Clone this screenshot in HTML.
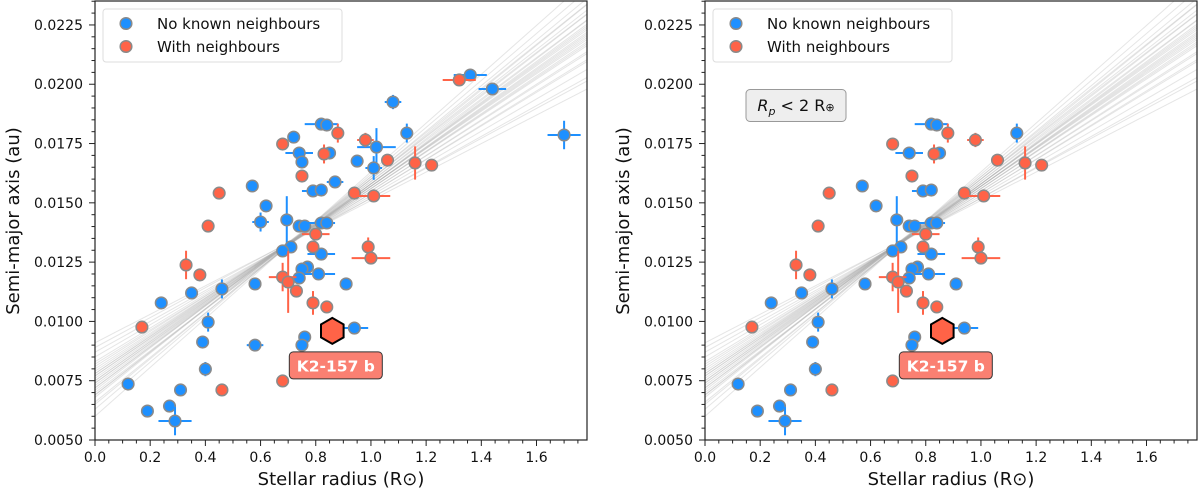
<!DOCTYPE html>
<html><head><meta charset="utf-8"><style>
html,body{margin:0;padding:0;background:#fff;}
svg{display:block;font-family:"DejaVu Sans","Liberation Sans",sans-serif;}
</style></head><body>
<svg id="chart" width="1200" height="493" viewBox="0 0 1200 493"></svg>
<script>
// ---------- data ----------
const blueX    = [1.36,1.44,1.08,0.82,0.84,1.13,1.70,0.72,1.02,0.74,0.85,0.75,0.95,1.01,0.57,0.87,0.79,0.82,0.62,0.60,0.695,0.74,0.76,0.82,0.84,0.71,0.68,0.82,0.77,0.75,0.81,0.74,0.58,0.91,0.46,0.35,0.24,0.41,0.94,0.76,0.39,0.58,0.75,0.40,0.12,0.31,0.27,0.19,0.29];
const blueY    = [0.02039,0.0198,0.01925,0.01832,0.01828,0.01794,0.01786,0.01777,0.01735,0.0171,0.0171,0.01672,0.01676,0.01647,0.01571,0.01588,0.0155,0.01554,0.01487,0.01419,0.01428,0.01402,0.01402,0.01415,0.01415,0.01314,0.01297,0.01284,0.01229,0.01221,0.012,0.01183,0.01158,0.01158,0.01137,0.0112,0.01078,0.00997,0.00972,0.00934,0.00913,0.009,0.009,0.00799,0.00736,0.00711,0.00643,0.00622,0.0058];
const blueXerr = [0.06,0.05,0.03,0.06,0,0,0.06,0,0.07,0.05,0,0.02,0,0.03,0,0.03,0.04,0,0,0.03,0,0,0,0.05,0,0,0,0.05,0,0,0.06,0,0,0,0,0,0,0,0.05,0,0,0.03,0,0,0,0,0,0,0.06];
const blueYerr = [0,0,0.0003,0,0,0.0004,0.0006,0,0.0008,0,0,0,0,0.0005,0,0,0,0,0,0.0004,0.001,0,0,0,0,0,0,0,0,0,0,0,0,0,0.0004,0,0,0.0004,0,0,0,0,0,0.0003,0,0,0,0,0.0006];
const blueInRight = [0,0,0,1,1,1,0,0,0,1,1,0,0,0,1,0,1,1,1,0,1,1,1,1,1,1,1,1,1,1,1,1,1,1,1,1,1,1,1,1,1,0,1,1,1,1,1,1,1];

const orangeX    = [1.32,0.88,0.68,0.98,0.83,1.06,1.16,1.22,0.75,0.45,0.94,1.01,0.41,0.80,0.79,0.99,1.00,0.33,0.38,0.68,0.70,0.73,0.79,0.84,0.17,0.68,0.46];
const orangeY    = [0.02018,0.01794,0.01748,0.01765,0.01706,0.0168,0.01668,0.01659,0.01613,0.01541,0.01541,0.01529,0.01402,0.01368,0.01314,0.01314,0.01267,0.01238,0.01196,0.01187,0.01166,0.01128,0.01078,0.01061,0.00976,0.00749,0.00711];
const orangeXerr = [0.06,0,0,0.03,0,0,0,0,0.02,0,0,0.06,0,0.05,0,0,0.07,0,0,0.05,0,0,0,0,0,0,0];
const orangeYerr = [0,0.0004,0,0.0003,0.0004,0,0.0007,0,0,0,0,0,0,0,0,0.0004,0,0.0006,0,0.0006,0.0013,0,0.0005,0,0,0,0];
const orangeInRight = [0,1,1,1,1,1,1,1,1,1,1,1,1,1,1,1,1,1,1,1,1,1,1,1,1,1,1];

const targetX = 0.86, targetY = 0.0096;

const fitIntercepts = [0.0060,0.0063,0.0065,0.0066,0.0068,0.0069,0.0070,0.0071,0.0072,0.0072,0.0073,0.0074,0.0074,0.0075,0.0075,0.0076,0.0077,0.0077,0.0078,0.0079,0.0080,0.0081,0.0082,0.0083,0.0085,0.0087,0.0089,0.0091,0.0069,0.0078];
const fitSlopes     = [0.0103,0.0099,0.0096,0.0094,0.0093,0.0090,0.0088,0.0089,0.0086,0.0087,0.0085,0.0083,0.0084,0.0082,0.0083,0.0081,0.0079,0.0080,0.0078,0.0077,0.0075,0.0074,0.0072,0.0071,0.0068,0.0065,0.0063,0.0060,0.0091,0.0079];

const xTicks = [0.0,0.2,0.4,0.6,0.8,1.0,1.2,1.4,1.6];
const xTickLabels = ["0.0","0.2","0.4","0.6","0.8","1.0","1.2","1.4","1.6"];
const yTicks = [0.005,0.0075,0.01,0.0125,0.015,0.0175,0.02,0.0225];
const yTickLabels = ["0.0050","0.0075","0.0100","0.0125","0.0150","0.0175","0.0200","0.0225"];

// ---------- drawing ----------
const NS = "http://www.w3.org/2000/svg";
const svg = document.getElementById('chart');
const BLUE = "#1e90ff", ORANGE = "#ff6347";
const XMIN = 0, XMAX = 1.783, YMIN = 0.005, YMAX = 0.02351;
const PW = 492, PT = 1, PB = 440;

function mk(tag, attrs, parent) {
  const e = document.createElementNS(NS, tag);
  for (const k in attrs) e.setAttribute(k, attrs[k]);
  (parent || svg).appendChild(e);
  return e;
}

function drawPanel(left, isRight) {
  const sx = v => left + (v - XMIN) / (XMAX - XMIN) * PW;
  const sy = v => PB - (v - YMIN) / (YMAX - YMIN) * (PB - PT);
  const g = mk('g', {});
  
  

  const cid = 'clip' + (isRight ? 'R' : 'L');
  const cp = mk('clipPath', {id: cid}, g);
  mk('rect', {x: left, y: PT, width: PW, height: PB - PT}, cp);

  const fits = mk('g', {'clip-path': 'url(#' + cid + ')'}, g);
  
  
  for (let i = 0; i < fitIntercepts.length; i++) {
    const a = fitIntercepts[i], b = fitSlopes[i];
    const l = mk('line', {x1: sx(XMIN), y1: sy(a + b * XMIN), x2: sx(XMAX), y2: sy(a + b * XMAX), stroke: '#aaa', 'stroke-width': 1, 'stroke-opacity': 0.3}, fits);
    
    
  }

  function series(X, Y, XE, YE, IN, color, name) {
    const sg = mk('g', {}, g);
    
    
    for (let i = 0; i < X.length; i++) {
      if (isRight && !IN[i]) continue;
      const cx = sx(X[i]), cy = sy(Y[i]);
      if (XE[i] > 0) {
        const e = mk('line', {x1: sx(X[i] - XE[i]), x2: sx(X[i] + XE[i]), y1: cy, y2: cy, stroke: color, 'stroke-width': 2}, sg);
        
        
      }
      if (YE[i] > 0) {
        const e = mk('line', {x1: cx, x2: cx, y1: sy(Y[i] - YE[i]), y2: sy(Y[i] + YE[i]), stroke: color, 'stroke-width': 2}, sg);
        
        
      }
      const c = mk('circle', {cx: cx, cy: cy, r: 5.8, fill: color, stroke: '#8a8a8a', 'stroke-width': 1.5}, sg);
      
      
    }
  }
  series(blueX, blueY, blueXerr, blueYerr, blueInRight, BLUE, 'no-neighbours');
  series(orangeX, orangeY, orangeXerr, orangeYerr, orangeInRight, ORANGE, 'with-neighbours');

  const hx = sx(targetX), hy = sy(targetY), R = 13;
  let pts = [];
  for (let k = 0; k < 6; k++) { const ang = Math.PI / 2 + k * Math.PI / 3; pts.push((hx + R * Math.cos(ang)).toFixed(1) + ',' + (hy - R * Math.sin(ang)).toFixed(1)); }
  const hex = mk('polygon', {points: pts.join(' '), fill: ORANGE, stroke: '#000', 'stroke-width': 2}, g);
  
  
  const lb = mk('rect', {x: hx - 43, y: hy + 21, width: 93, height: 27, rx: 4, fill: '#fa8072', stroke: '#333', 'stroke-width': 1}, g);
  
  
  const lt = mk('text', {x: hx + 3.5, y: hy + 40.5, 'text-anchor': 'middle', fill: '#fff', 'font-size': 15.5, 'font-weight': 'bold'}, g);
  lt.textContent = 'K2-157 b';
  
  

  const fr = mk('rect', {x: left, y: PT, width: PW, height: PB - PT, fill: 'none', stroke: '#222', 'stroke-width': 1.2}, g);
  
  

  for (let v = 0; v <= XMAX + 1e-9; v += 0.05) {
    const major = Math.abs(v / 0.2 - Math.round(v / 0.2)) < 1e-6;
    const t = mk('line', {x1: sx(v), x2: sx(v), y1: PB, y2: PB + (major ? 6 : 3.5), stroke: '#222', 'stroke-width': 1}, g);
    
    
  }
  xTicks.forEach((v, i) => {
    const t = mk('text', {x: sx(v), y: 462, 'text-anchor': 'middle', 'font-size': 14, fill: '#111'}, g);
    t.textContent = xTickLabels[i];
    
    
  });
  for (let v = YMIN; v <= YMAX + 1e-9; v += 0.0005) {
    const major = Math.abs((v - 0.005) / 0.0025 - Math.round((v - 0.005) / 0.0025)) < 1e-6;
    const t = mk('line', {x1: left, x2: left - (major ? 6 : 3.5), y1: sy(v), y2: sy(v), stroke: '#222', 'stroke-width': 1}, g);
    
    
  }
  yTicks.forEach((v, i) => {
    const t = mk('text', {x: left - 12, y: sy(v) + 5, 'text-anchor': 'end', 'font-size': 14, fill: '#111'}, g);
    t.textContent = yTickLabels[i];
    
    
  });
  const xt = mk('text', {x: left + 246, y: 485, 'text-anchor': 'middle', 'font-size': 18, fill: '#111'}, g);
  xt.textContent = 'Stellar radius (R\u2299)';
  
  
  const yt = mk('text', {x: 0, y: 0, transform: 'translate(' + (left - 76) + ',221) rotate(-90)', 'text-anchor': 'middle', 'font-size': 18, fill: '#111'}, g);
  yt.textContent = 'Semi-major axis (au)';
  
  

  const lg = mk('g', {}, g);
  
  
  mk('rect', {x: left + 8, y: 9, width: 239, height: 53, rx: 3, fill: '#fff', 'fill-opacity': 0.85, stroke: '#ddd', 'stroke-width': 1}, lg);
  [[BLUE, 'No known neighbours', 23.5], [ORANGE, 'With neighbours', 46.5]].forEach(e => {
    const c = mk('circle', {cx: left + 31, cy: e[2], r: 5.8, fill: e[0], stroke: '#8a8a8a', 'stroke-width': 1.5}, lg);
    
    
    const t = mk('text', {x: left + 62, y: e[2] + 5.5, 'font-size': 15, fill: '#111'}, lg);
    t.textContent = e[1];
    
    
  });

  if (isRight) {
    const bx = mk('rect', {x: left + 41, y: 89.5, width: 100, height: 32, rx: 4, fill: '#eee', stroke: '#999', 'stroke-width': 1}, g);
    
    
    const t = mk('text', {x: left + 91, y: 111, 'text-anchor': 'middle', 'font-size': 16, fill: '#111'}, g);
    t.innerHTML = '<tspan font-style="italic">R</tspan><tspan font-style="italic" font-size="11" dy="4">p</tspan><tspan dy="-4"> &lt; 2 R</tspan><tspan font-size="11">\u2295</tspan>';
    
    
  }
}
drawPanel(95, false);
drawPanel(705, true);
</script>
</body></html>
